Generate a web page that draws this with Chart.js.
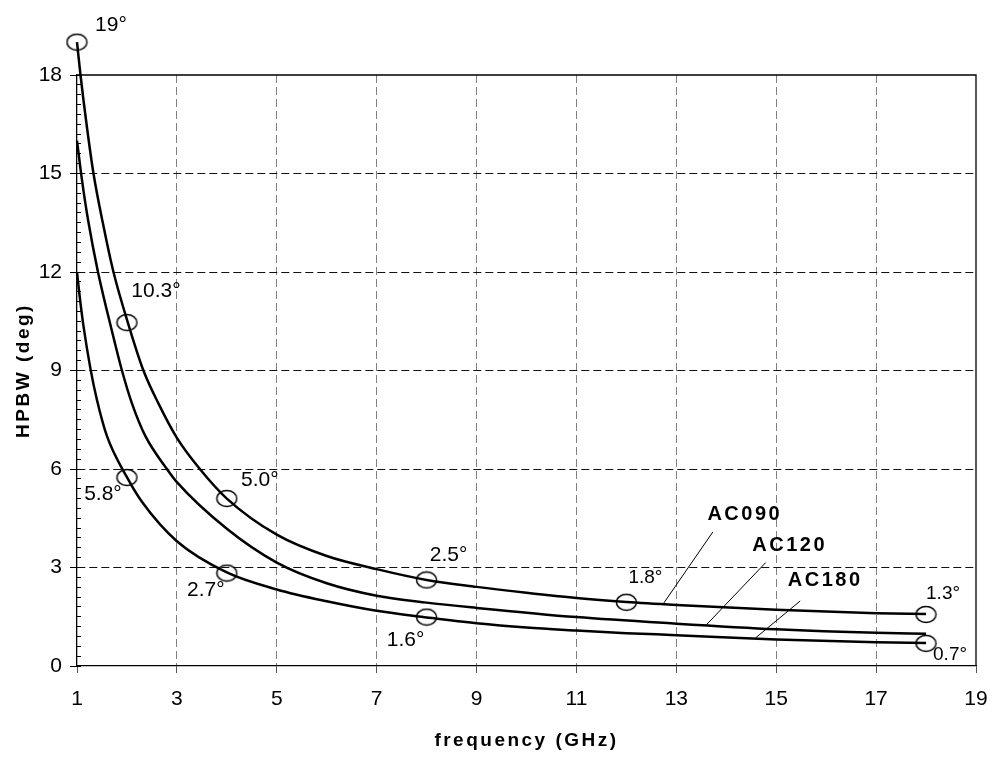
<!DOCTYPE html>
<html lang="en">
<head>
<meta charset="UTF-8">
<title>HPBW vs frequency</title>
<style>
  body { margin: 0; background: #fff; }
  #wrap { width: 993px; height: 758px; }
</style>
</head>
<body>
<div id="wrap"><canvas id="chart"></canvas></div>
<script src="https://cdn.jsdelivr.net/npm/chart.js"></script>
<script>
// curves: frequency (GHz) -> HPBW (deg)
const freq090 = [1, 1.07, 1.2, 1.33, 1.53, 1.73, 2.03, 2.33, 2.63, 3, 3.46, 4, 5, 6, 7, 8, 9, 10, 11, 12, 13, 15, 17, 18];
const hpbw090 = [19.0, 18.0, 16.4, 15.0, 13.4, 12.0, 10.4, 9.0, 8.0, 6.95, 6.0, 5.1, 4.0, 3.35, 2.95, 2.62, 2.41, 2.23, 2.07, 1.95, 1.86, 1.71, 1.61, 1.58];

const freq120 = [1, 1.1, 1.22, 1.42, 1.7, 1.9, 2.1, 2.37, 2.8, 3, 4, 5, 6, 7, 8, 9, 11, 13, 15, 17, 18];
const hpbw120 = [16.0, 14.8, 13.6, 12.0, 10.2, 9.0, 8.0, 7.0, 6.0, 5.6, 4.18, 3.15, 2.52, 2.14, 1.93, 1.77, 1.49, 1.29, 1.12, 1.01, 0.98];

const freq180 = [1, 1.05, 1.13, 1.27, 1.4, 1.6, 2, 2.3, 3, 4, 5, 6, 7, 8, 9, 10, 11, 12, 13, 15, 17, 18];
const hpbw180 = [12.0, 11.3, 10.35, 9.05, 8.1, 7.0, 5.75, 5.0, 3.8, 2.85, 2.33, 1.97, 1.68, 1.48, 1.3, 1.17, 1.08, 1.0, 0.94, 0.81, 0.72, 0.7];

// circled points and their labels
const markFreq = [1, 2, 2, 4, 4, 8, 8, 12, 18, 18];
const markHpbw = [19.0, 10.46, 5.74, 5.1, 2.83, 2.62, 1.49, 1.94, 1.57, 0.69];
const markText = ['19°', '10.3°', '5.8°', '5.0°', '2.7°', '2.5°', '1.6°', '1.8°', '1.3°', '0.7°'];

const seriesNames = ['AC090', 'AC120', 'AC180'];
const xTicks = [1, 3, 5, 7, 9, 11, 13, 15, 17, 19];
const yTicks = [0, 3, 6, 9, 12, 15, 18];

// label placement (pixel offset from the circle) and size
const markLabelStyle = [
  { dx: 34, dy: -17, size: 21 }, { dx: 29, dy: -31, size: 21 }, { dx: -24, dy: 17, size: 21 },
  { dx: 33, dy: -18, size: 21 }, { dx: -21, dy: 17, size: 21 }, { dx: 22, dy: -25, size: 21 },
  { dx: -21, dy: 23, size: 21 }, { dx: 19, dy: -25, size: 19 }, { dx: 17, dy: -21, size: 19 },
  { dx: 24, dy: 11, size: 19 }
];
// name callouts in axis units: text centre, line start, line end on the curve
const callouts = [
  { at: [14.37, 4.6], from: [13.73, 4.08], to: [12.75, 1.92] },
  { at: [15.27, 3.67], from: [14.79, 3.15], to: [13.58, 1.22] },
  { at: [15.98, 2.59], from: [15.48, 1.98], to: [14.59, 0.86] }
];

const FONT = 'Arial, "Liberation Sans", Helvetica, sans-serif';
Chart.defaults.font.family = FONT;
Chart.defaults.color = '#000';

function toPts(xs, ys) {
  return xs.map((x, i) => ({ x: x, y: ys[i] }));
}

function ellipseMark() {
  const c = document.createElement('canvas');
  c.width = 23;
  c.height = 19;
  const g = c.getContext('2d');
  g.strokeStyle = '#000';
  g.lineWidth = 1.4;
  g.beginPath();
  g.ellipse(11.5, 9.5, 10, 8, 0, 0, Math.PI * 2);
  g.stroke();
  return c;
}

const lineStyle = {
  borderColor: '#000',
  borderWidth: 2.5,
  pointRadius: 0,
  cubicInterpolationMode: 'monotone',
  fill: false,
  clip: false
};

// solid frame on top and right
const frame = {
  id: 'frame',
  beforeDatasetsDraw(chart) {
    const { ctx, chartArea: a } = chart;
    ctx.save();
    ctx.strokeStyle = '#000';
    ctx.lineWidth = 1.3;
    ctx.beginPath();
    ctx.moveTo(a.left, a.top);
    ctx.lineTo(a.right, a.top);
    ctx.lineTo(a.right, a.bottom);
    ctx.stroke();
    ctx.restore();
  }
};

// letter spaced axis titles
const spacedTitles = {
  id: 'spacedTitles',
  afterLayout(chart) {
    Object.values(chart.scales).forEach(s => {
      if (s._spaced) return;
      const orig = s.drawTitle;
      s.drawTitle = function () {
        this.ctx.save();
        this.ctx.letterSpacing = '2.5px';
        orig.call(this);
        this.ctx.restore();
      };
      s._spaced = true;
    });
  }
};

const annotations = {
  id: 'annotations',
  afterDatasetsDraw(chart) {
    const { ctx } = chart;
    const xs = chart.scales.x, ys = chart.scales.y;
    ctx.save();
    ctx.fillStyle = '#000';
    ctx.textAlign = 'center';
    ctx.textBaseline = 'middle';
    markFreq.forEach((f, i) => {
      const st = markLabelStyle[i];
      ctx.font = st.size + 'px ' + FONT;
      ctx.fillText(markText[i], xs.getPixelForValue(f) + st.dx, ys.getPixelForValue(markHpbw[i]) + st.dy);
    });
    ctx.strokeStyle = '#000';
    ctx.lineWidth = 1;
    ctx.font = 'bold 20px ' + FONT;
    ctx.letterSpacing = '2.5px';
    seriesNames.forEach((name, i) => {
      const c = callouts[i];
      ctx.beginPath();
      ctx.moveTo(xs.getPixelForValue(c.from[0]), ys.getPixelForValue(c.from[1]));
      ctx.lineTo(xs.getPixelForValue(c.to[0]), ys.getPixelForValue(c.to[1]));
      ctx.stroke();
      ctx.fillText(name, xs.getPixelForValue(c.at[0]), ys.getPixelForValue(c.at[1]));
    });
    ctx.restore();
  }
};

new Chart(document.getElementById('chart'), {
  type: 'line',
  data: {
    datasets: [
      Object.assign({ label: seriesNames[0], data: toPts(freq090, hpbw090) }, lineStyle),
      Object.assign({ label: seriesNames[1], data: toPts(freq120, hpbw120) }, lineStyle),
      Object.assign({ label: seriesNames[2], data: toPts(freq180, hpbw180) }, lineStyle),
      {
        label: 'points',
        data: toPts(markFreq, markHpbw),
        showLine: false,
        pointStyle: ellipseMark(),
        pointRadius: 40, // large so the 19° circle above the frame is not culled
        clip: false
      }
    ]
  },
  options: {
    responsive: true,
    maintainAspectRatio: false,
    animation: false,
    events: [],
    layout: { autoPadding: false, padding: { top: 75, right: 17, left: 0, bottom: 0 } },
    plugins: {
      legend: { display: false },
      tooltip: { enabled: false }
    },
    scales: {
      x: {
        type: 'linear',
        min: xTicks[0],
        max: xTicks[xTicks.length - 1],
        afterBuildTicks: s => { s.ticks = xTicks.map(v => ({ value: v })); },
        ticks: { padding: 14, font: { size: 21 }, maxRotation: 0, autoSkip: false },
        grid: {
          color: c => (c.tick && (c.tick.value === 1 || c.tick.value === 19)) ? 'transparent' : '#808080',
          tickColor: '#555',
          tickLength: 7,
          lineWidth: 1
        },
        border: { color: '#000', width: 1.3, dash: [8, 4] },
        title: {
          display: true,
          text: 'frequency (GHz)',
          font: { size: 19, weight: 'bold' },
          padding: { top: 0, bottom: 6 }
        },
        afterFit: s => {
          s.height = 92;
          s.paddingLeft = 0;
          s.paddingRight = 0;
        }
      },
      y: {
        min: yTicks[0],
        max: yTicks[yTicks.length - 1],
        afterBuildTicks: s => { s.ticks = yTicks.map(v => ({ value: v })); },
        ticks: { padding: 8, font: { size: 21 } },
        grid: {
          color: c => (c.tick && (c.tick.value === 0 || c.tick.value === 18)) ? 'transparent' : '#111',
          tickColor: '#000',
          tickLength: 7,
          lineWidth: 1
        },
        border: { color: '#000', width: 1.3, dash: [8, 4] },
        title: {
          display: true,
          text: 'HPBW (deg)',
          font: { size: 19, weight: 'bold' },
          padding: { top: 12, bottom: 0 }
        },
        afterFit: s => { s.width = 77; }
      },
      yMinor: {
        position: 'left',
        weight: -1,
        min: 0,
        max: 18,
        ticks: { display: false, stepSize: 0.3 },
        grid: { drawOnChartArea: false, tickLength: -4, tickColor: '#000' },
        border: { display: false },
        afterFit: s => { s.width = 0; }
      }
    }
  },
  plugins: [frame, spacedTitles, annotations]
});
</script>
</body>
</html>
